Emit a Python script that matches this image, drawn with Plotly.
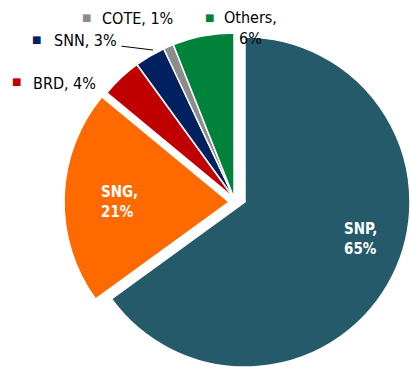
import plotly.graph_objects as go

# ---- data ----
labels = ["SNP", "SNG", "BRD", "SNN", "COTE", "Others"]
values = [65, 21, 4, 3, 1, 6]
colors = ["#245A69", "#FF6A00", "#C00000", "#002060", "#8C8C8C", "#00823B"]

W, H = 410, 367
FONT = "DejaVu Sans Condensed, DejaVu Sans, sans-serif"
R = 165  # pie radius in px

# each group of slices is drawn by its own pie trace (same values -> same angles),
# placed at a slightly different centre to reproduce the exploded slices
groups = [
    (["BRD", "SNN", "COTE", "Others"], 234, 198),
    (["SNG"], 229, 202),
    (["SNP"], 245, 202),
]

fig = go.Figure()
for show, cx, cy in groups:
    cols = [c if l in show else "rgba(0,0,0,0)" for l, c in zip(labels, colors)]
    lw = [1.5 if l in show else 0 for l in labels]
    fig.add_trace(go.Pie(
        labels=labels, values=values, sort=False, direction="clockwise", rotation=0,
        marker=dict(colors=cols, line=dict(color="white", width=lw)),
        textinfo="none", hoverinfo="skip", showlegend=False,
        domain=dict(x=[max(0, (cx - R) / W), min(1, (cx + R) / W)],
                    y=[max(0, 1 - (cy + R) / H), min(1, 1 - (cy - R) / H)]),
    ))

def px(x):
    return x / W

def py(y):
    return 1 - y / H

ann = []
# inside labels (white bold)
inside = {"SNP": (342, 239), "SNG": (99, 202)}
for lab, (x, y) in inside.items():
    v = values[labels.index(lab)]
    ann.append(dict(x=px(x), y=py(y), xref="paper", yref="paper", xanchor="left",
                    yanchor="middle", align="left", showarrow=False,
                    text=f"<b>{lab},<br>{v}%</b>",
                    font=dict(family=FONT, size=15, color="white")))

# outside labels: (marker centre, text left/centre, anchor)
outside = {
    "COTE": ((86.5, 17.5), (100, 18.5), "left"),
    "SNN": ((36, 39.5), (52, 40), "left"),
    "BRD": ((16, 82), (31, 83), "left"),
}
for lab, ((mx, my), (tx, ty), anc) in outside.items():
    i = labels.index(lab)
    ann.append(dict(x=px(mx), y=py(my), xref="paper", yref="paper", xanchor="center",
                    yanchor="middle", showarrow=False, text="■",
                    font=dict(family="DejaVu Sans", size=10, color=colors[i])))
    ann.append(dict(x=px(tx), y=py(ty), xref="paper", yref="paper", xanchor=anc,
                    yanchor="middle", showarrow=False, text=f"{lab}, {values[i]}%",
                    font=dict(family=FONT, size=16, color="#000000")))

# Others: two-line centred label
i = labels.index("Others")
ann.append(dict(x=px(209), y=py(17.5), xref="paper", yref="paper", xanchor="center",
                yanchor="middle", showarrow=False, text="■",
                font=dict(family="DejaVu Sans", size=10, color=colors[i])))
ann.append(dict(x=px(250), y=py(28.5), xref="paper", yref="paper", xanchor="center",
                yanchor="middle", align="center", showarrow=False,
                text=f"Others,<br>{values[i]}%",
                font=dict(family=FONT, size=16, color="#000000")))

# leader line for SNN
ann.append(dict(x=px(153), y=py(50), xref="paper", yref="paper", text="",
                showarrow=True, arrowhead=0, arrowwidth=1, arrowcolor="black",
                ax=-33, ay=-4, standoff=0, startstandoff=0))

fig.update_layout(
    width=W, height=H, margin=dict(l=0, r=0, t=0, b=0),
    paper_bgcolor="white", plot_bgcolor="white",
    annotations=ann,
)

fig.write_html("out.html")
